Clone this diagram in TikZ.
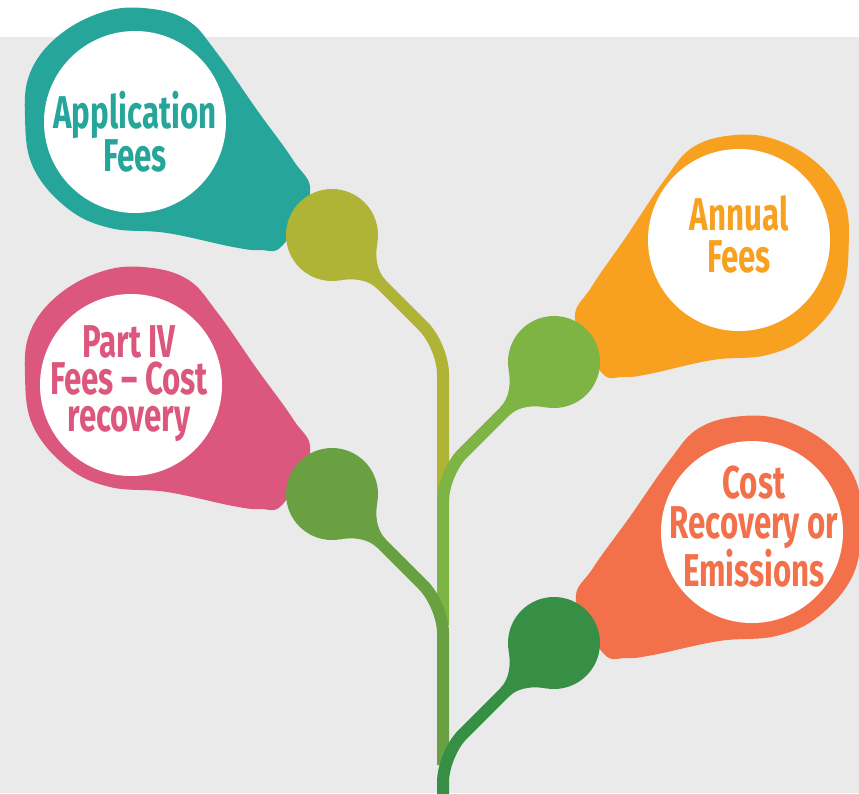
\documentclass[tikz,border=0pt]{standalone}
\usepackage{fontspec}
\setmainfont{Fira Sans}[FakeStretch=0.68]
\definecolor{bggray}{HTML}{EAEAEA}
\definecolor{cteal}{HTML}{26A69A}
\definecolor{colive}{HTML}{AFB436}
\definecolor{corange}{HTML}{F8A120}
\definecolor{cpink}{HTML}{DC577E}
\definecolor{cred}{HTML}{F2714A}
\definecolor{glight}{HTML}{7EB443}
\definecolor{gmid}{HTML}{68A042}
\definecolor{gdark}{HTML}{378E45}
\tikzset{
  blob/.pic={\fill[pic actions] plot[smooth cycle, tension=0.65] coordinates {(-189,-227) (-145,-215) (-115,-182) (-75,-125) (-39,-75) (-22,-42) (-49,10) (-72,15) (-99,12) (-165,-2) (-222,-7) (-265,-27) (-299,-68) (-307,-118) (-302,-162) (-275,-198) (-232,-222)};},
  neck/.pic={\fill[pic actions] (0,-20) -- (37.7,-26.4) .. controls (44.5,-16.6) and (56,-6) .. (70,-6) -- (70,6) .. controls (56,6) and (44.5,16.6) .. (37.7,26.4) -- (0,20) -- cycle;},
  ball/.style={circle, minimum size=92pt, inner sep=0pt},
  hole/.style={circle, fill=white, minimum size=182pt, inner sep=0pt},
  label/.style={font=\fontsize{46}{42}\selectfont\bfseries, align=center, inner sep=0pt},
  stem/.style={line width=12pt, rounded corners=28pt}
}
\begin{document}
\begin{tikzpicture}[x=1pt,y=-1pt]
\useasboundingbox (0,0) rectangle (859,793);
\fill[white] (0,0) rectangle (859,37);
\fill[bggray] (0,37) rectangle (859,793);
% blobs
\pic[fill=cteal] at (332,235) {blob};
\pic[fill=cpink] at (332,494) {blob};
\pic[fill=corange, xscale=-0.96] at (554,362) {blob};
\pic[fill=cred, xscale=-1] at (554,643) {blob};
% white circles
\node[hole] (h1) at (135,122) {};
\node[hole] (h2) at (131,385) {};
\node[hole] (h3) at (739,240) {};
\node[hole] (h4) at (752,532) {};
% texts
\node[label, text=cteal] (t1) at (135,132) {Application\\Fees};
\node[label, text=corange] (t3) at (739,234) {Annual\\Fees};
\node[label, text=cpink, font=\fontsize{46}{37}\selectfont\bfseries] (t2) at (129,384) {Part IV\\Fees -- Cost\\recovery};
\node[label, text=cred, font=\fontsize{46}{39.5}\selectfont\bfseries] (t4) at (754,527) {Cost\\Recovery or\\Emissions};
% ball positions and stem bends
\coordinate (p1) at (332,235);
\coordinate (p2) at (554,362);
\coordinate (p3) at (332,494);
\coordinate (p4) at (554,643);
\coordinate (k1) at (443,346);
\coordinate (e1) at (443,500);
\coordinate (k2) at (443,473);
\coordinate (e2) at (443,625);
\coordinate (k3) at (443,605);
\coordinate (e3) at (443,765);
\coordinate (k4) at (443,754);
\coordinate (e4) at (443,800);
% stems
\draw[stem, colive] (p1) -- (k1) -- (e1);
\draw[stem, glight] (p2) -- (k2) -- (e2);
\draw[stem, gmid] (p3) -- (k3) -- (e3);
\draw[stem, gdark] (p4) -- (k4) -- (e4);
% necks
\pic[fill=colive, rotate=-45] at (p1) {neck};
\pic[fill=glight, rotate=-135] at (p2) {neck};
\pic[fill=gmid, rotate=-45] at (p3) {neck};
\pic[fill=gdark, rotate=-135] at (p4) {neck};
% balls
\node[ball, fill=colive] (b1) at (p1) {};
\node[ball, fill=glight] (b2) at (p2) {};
\node[ball, fill=gmid] (b3) at (p3) {};
\node[ball, fill=gdark] (b4) at (p4) {};
\end{tikzpicture}
\end{document}
